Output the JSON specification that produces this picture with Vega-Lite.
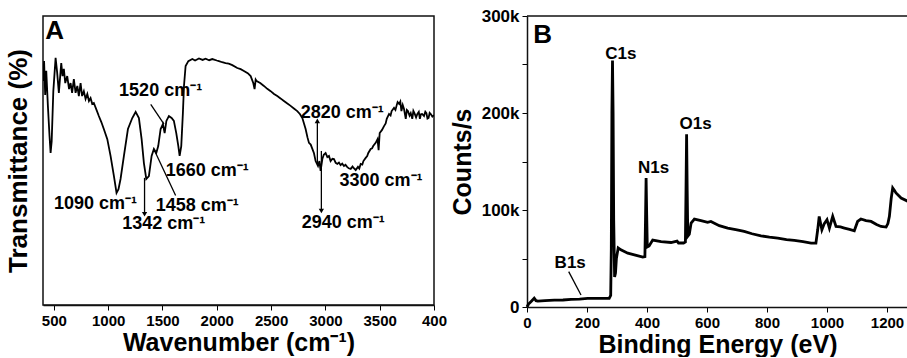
{
  "$schema": "https://vega.github.io/schema/vega-lite/v6.json",
  "padding": {"left": 4, "top": 7, "right": 0, "bottom": 0},
  "bounds": "flush",
  "spacing": 93,
  "config": {
    "font": "Liberation Sans",
    "view": {"stroke": "#111", "strokeWidth": 1.5},
    "axis": {
      "grid": false,
      "labelFont": "Liberation Sans",
      "labelFontWeight": "bold",
      "labelFontSize": 15,
      "labelColor": "#000",
      "titleFont": "Liberation Sans",
      "titleFontWeight": "bold",
      "titleFontSize": 25,
      "titleColor": "#000",
      "tickColor": "#000",
      "tickSize": 5,
      "tickWidth": 1,
      "domainColor": "#111",
      "domainWidth": 1.5,
      "labelPadding": 3,
      "titlePadding": 2
    },
    "text": {"font": "Liberation Sans", "fontWeight": "bold", "fontSize": 17, "color": "#000"}
  },
  "hconcat": [
    {
      "width": 391,
      "height": 289,
      "layer": [
        {
          "data": {"values": [
            {"wn": 400, "T": 77.5}, {"wn": 410, "T": 84.4}, {"wn": 420, "T": 72.7}, {"wn": 430, "T": 81.0}, {"wn": 445, "T": 68.9},
            {"wn": 460, "T": 58.5}, {"wn": 470, "T": 52.6}, {"wn": 480, "T": 56.7}, {"wn": 495, "T": 74.0}, {"wn": 516, "T": 85.5},
            {"wn": 530, "T": 80.6}, {"wn": 546, "T": 73.4}, {"wn": 568, "T": 83.7}, {"wn": 580, "T": 79.2}, {"wn": 592, "T": 81.7},
            {"wn": 605, "T": 76.8}, {"wn": 623, "T": 79.2}, {"wn": 640, "T": 74.7}, {"wn": 654, "T": 76.8}, {"wn": 668, "T": 73.4},
            {"wn": 684, "T": 78.2}, {"wn": 700, "T": 73.4}, {"wn": 716, "T": 75.8}, {"wn": 730, "T": 72.3}, {"wn": 746, "T": 76.8},
            {"wn": 760, "T": 72.3}, {"wn": 776, "T": 74.0}, {"wn": 792, "T": 71.3}, {"wn": 808, "T": 73.0}, {"wn": 823, "T": 70.6},
            {"wn": 838, "T": 71.6}, {"wn": 853, "T": 69.6}, {"wn": 868, "T": 69.9}, {"wn": 890, "T": 67.8}, {"wn": 914, "T": 65.4},
            {"wn": 937, "T": 63.3}, {"wn": 960, "T": 60.9}, {"wn": 992, "T": 57.4}, {"wn": 1022, "T": 51.6}, {"wn": 1053, "T": 44.6},
            {"wn": 1077, "T": 38.8}, {"wn": 1095, "T": 40.1}, {"wn": 1114, "T": 43.6}, {"wn": 1145, "T": 51.6}, {"wn": 1182, "T": 60.9},
            {"wn": 1222, "T": 64.7}, {"wn": 1253, "T": 66.8}, {"wn": 1283, "T": 64.7}, {"wn": 1308, "T": 57.4}, {"wn": 1329, "T": 49.1},
            {"wn": 1351, "T": 43.6}, {"wn": 1375, "T": 44.6}, {"wn": 1400, "T": 51.6}, {"wn": 1421, "T": 54.0}, {"wn": 1443, "T": 52.6},
            {"wn": 1461, "T": 55.0}, {"wn": 1483, "T": 60.9}, {"wn": 1504, "T": 62.6}, {"wn": 1520, "T": 59.5}, {"wn": 1536, "T": 63.7},
            {"wn": 1559, "T": 65.4}, {"wn": 1584, "T": 64.7}, {"wn": 1605, "T": 63.7}, {"wn": 1627, "T": 59.5}, {"wn": 1646, "T": 55.0},
            {"wn": 1658, "T": 51.6}, {"wn": 1673, "T": 55.0}, {"wn": 1688, "T": 66.4}, {"wn": 1698, "T": 75.8}, {"wn": 1713, "T": 82.7},
            {"wn": 1738, "T": 84.4}, {"wn": 1775, "T": 85.1}, {"wn": 1800, "T": 84.6}, {"wn": 1836, "T": 85.3}, {"wn": 1870, "T": 84.8},
            {"wn": 1897, "T": 85.2}, {"wn": 1930, "T": 84.7}, {"wn": 1959, "T": 85.1}, {"wn": 2000, "T": 84.6}, {"wn": 2020, "T": 84.4},
            {"wn": 2050, "T": 84.0}, {"wn": 2081, "T": 83.7}, {"wn": 2110, "T": 83.5}, {"wn": 2143, "T": 83.0}, {"wn": 2189, "T": 82.0},
            {"wn": 2220, "T": 81.6}, {"wn": 2250, "T": 81.0}, {"wn": 2285, "T": 80.2}, {"wn": 2312, "T": 79.2}, {"wn": 2336, "T": 76.8},
            {"wn": 2348, "T": 74.7}, {"wn": 2358, "T": 78.0}, {"wn": 2367, "T": 77.5}, {"wn": 2400, "T": 76.8}, {"wn": 2434, "T": 75.8},
            {"wn": 2465, "T": 74.8}, {"wn": 2496, "T": 74.0}, {"wn": 2527, "T": 73.0}, {"wn": 2557, "T": 72.3}, {"wn": 2590, "T": 71.4},
            {"wn": 2618, "T": 70.6}, {"wn": 2650, "T": 69.7}, {"wn": 2680, "T": 68.9}, {"wn": 2710, "T": 68.0}, {"wn": 2741, "T": 67.1},
            {"wn": 2765, "T": 66.1}, {"wn": 2788, "T": 64.7}, {"wn": 2818, "T": 60.9}, {"wn": 2835, "T": 58.0}, {"wn": 2849, "T": 56.1},
            {"wn": 2865, "T": 55.5}, {"wn": 2880, "T": 54.0}, {"wn": 2895, "T": 52.5}, {"wn": 2910, "T": 49.8}, {"wn": 2932, "T": 48.1},
            {"wn": 2945, "T": 49.8}, {"wn": 2956, "T": 46.4}, {"wn": 2972, "T": 50.5}, {"wn": 2985, "T": 52.0}, {"wn": 3002, "T": 52.6},
            {"wn": 3018, "T": 51.2}, {"wn": 3033, "T": 51.6}, {"wn": 3048, "T": 49.8}, {"wn": 3065, "T": 50.6}, {"wn": 3079, "T": 50.5},
            {"wn": 3095, "T": 49.2}, {"wn": 3110, "T": 48.8}, {"wn": 3125, "T": 49.3}, {"wn": 3140, "T": 48.4}, {"wn": 3155, "T": 48.9},
            {"wn": 3171, "T": 48.1}, {"wn": 3185, "T": 48.5}, {"wn": 3200, "T": 47.8}, {"wn": 3215, "T": 47.3}, {"wn": 3233, "T": 47.1},
            {"wn": 3250, "T": 47.9}, {"wn": 3260, "T": 47.4}, {"wn": 3279, "T": 46.7}, {"wn": 3300, "T": 47.8}, {"wn": 3312, "T": 47.2},
            {"wn": 3325, "T": 48.8}, {"wn": 3340, "T": 48.6}, {"wn": 3350, "T": 49.8}, {"wn": 3371, "T": 50.9}, {"wn": 3385, "T": 51.5},
            {"wn": 3395, "T": 52.6}, {"wn": 3417, "T": 54.0}, {"wn": 3430, "T": 54.2}, {"wn": 3440, "T": 55.0}, {"wn": 3463, "T": 56.1},
            {"wn": 3480, "T": 57.4}, {"wn": 3490, "T": 53.6}, {"wn": 3500, "T": 59.5}, {"wn": 3520, "T": 60.5}, {"wn": 3540, "T": 61.9},
            {"wn": 3555, "T": 62.8}, {"wn": 3565, "T": 64.4}, {"wn": 3586, "T": 66.1}, {"wn": 3600, "T": 65.6}, {"wn": 3610, "T": 67.1},
            {"wn": 3632, "T": 68.2}, {"wn": 3645, "T": 67.5}, {"wn": 3655, "T": 68.9}, {"wn": 3665, "T": 70.2}, {"wn": 3679, "T": 69.6},
            {"wn": 3690, "T": 70.4}, {"wn": 3700, "T": 67.1}, {"wn": 3712, "T": 69.2}, {"wn": 3724, "T": 67.8}, {"wn": 3740, "T": 64.4},
            {"wn": 3750, "T": 67.5}, {"wn": 3760, "T": 67.1}, {"wn": 3775, "T": 65.5}, {"wn": 3786, "T": 66.4}, {"wn": 3800, "T": 64.4},
            {"wn": 3810, "T": 67.2}, {"wn": 3820, "T": 66.4}, {"wn": 3835, "T": 64.9}, {"wn": 3847, "T": 66.1}, {"wn": 3860, "T": 66.8},
            {"wn": 3870, "T": 64.4}, {"wn": 3880, "T": 66.0}, {"wn": 3890, "T": 66.1}, {"wn": 3908, "T": 65.4}, {"wn": 3920, "T": 66.9},
            {"wn": 3930, "T": 66.4}, {"wn": 3940, "T": 64.5}, {"wn": 3950, "T": 64.7}, {"wn": 3960, "T": 66.5}, {"wn": 3970, "T": 66.1},
            {"wn": 3985, "T": 65.2}, {"wn": 4000, "T": 65.7}
          ]},
          "mark": {"type": "line", "color": "#000", "strokeWidth": 1.8, "clip": true},
          "encoding": {
            "x": {
              "field": "wn", "type": "quantitative",
              "scale": {"domain": [400, 4000], "nice": false, "zero": false},
              "axis": {
                "title": "Wavenumber (cm⁻¹)",
                "values": [500, 750, 1000, 1250, 1500, 1750, 2000, 2250, 2500, 2750, 3000, 3250, 3500, 3750, 4000],
                "format": "d",
                "labelExpr": "datum.value == 4000 ? '400' : (datum.value % 500 == 0 ? datum.label : '')",
                "labelFlush": false,
                "labelOverlap": false
              }
            },
            "y": {
              "field": "T", "type": "quantitative",
              "scale": {"domain": [0, 100], "nice": false},
              "axis": {"title": "Transmittance (%)", "titleFontSize": 26, "labels": false, "ticks": false, "domain": false, "titlePadding": 12}
            }
          }
        },
        {
          "data": {"values": [
            {"x1": 1392, "y1": 69.4, "x2": 1514, "y2": 62.6},
            {"x1": 1421, "y1": 53.9, "x2": 1621, "y2": 37.9},
            {"x1": 1335, "y1": 44.0, "x2": 1335, "y2": 31.4},
            {"x1": 2926, "y1": 48.8, "x2": 2926, "y2": 63.7},
            {"x1": 2963, "y1": 53.3, "x2": 2963, "y2": 32.5}
          ]},
          "mark": {"type": "rule", "color": "#000", "strokeWidth": 1.3},
          "encoding": {
            "x": {"field": "x1", "type": "quantitative"},
            "y": {"field": "y1", "type": "quantitative"},
            "x2": {"field": "x2"},
            "y2": {"field": "y2"}
          }
        },
        {
          "data": {"values": [
            {"x": 1335, "y": 31.4, "dir": "down"},
            {"x": 2926, "y": 63.7, "dir": "up"},
            {"x": 2963, "y": 32.5, "dir": "down"}
          ]},
          "mark": {"type": "point", "filled": true, "color": "#000", "size": 28, "opacity": 1},
          "encoding": {
            "x": {"field": "x", "type": "quantitative"},
            "y": {"field": "y", "type": "quantitative"},
            "shape": {"field": "dir", "type": "nominal", "scale": {"domain": ["down", "up"], "range": ["triangle-down", "triangle-up"]}, "legend": null}
          }
        },
        {
          "data": {"values": [
            {"x": 1483, "y": 74.0, "label": "1520 cm⁻¹"},
            {"x": 1913, "y": 46.4, "label": "1660 cm⁻¹"},
            {"x": 884, "y": 34.8, "label": "1090 cm⁻¹"},
            {"x": 1820, "y": 34.3, "label": "1458 cm⁻¹"},
            {"x": 1512, "y": 27.9, "label": "1342 cm⁻¹"},
            {"x": 3156, "y": 66.5, "label": "2820 cm⁻¹"},
            {"x": 3164, "y": 28.5, "label": "2940 cm⁻¹"},
            {"x": 3512, "y": 42.9, "label": "3300 cm⁻¹"}
          ]},
          "mark": {"type": "text", "baseline": "middle", "align": "center", "fontSize": 18},
          "encoding": {
            "x": {"field": "x", "type": "quantitative"},
            "y": {"field": "y", "type": "quantitative"},
            "text": {"field": "label"}
          }
        },
        {
          "data": {"values": [{"x": 507, "y": 94.8, "label": "A"}]},
          "mark": {"type": "text", "baseline": "middle", "align": "center", "fontSize": 26},
          "encoding": {
            "x": {"field": "x", "type": "quantitative"},
            "y": {"field": "y", "type": "quantitative"},
            "text": {"field": "label"}
          }
        }
      ]
    },
    {
      "width": 381,
      "height": 291,
      "view": {"stroke": null},
      "layer": [
        {
          "data": {"values": [
            {"be": 0, "c": 0}, {"be": 5, "c": 3000}, {"be": 13, "c": 5500}, {"be": 24, "c": 9000}, {"be": 30, "c": 6500},
            {"be": 36, "c": 6000}, {"be": 60, "c": 6500}, {"be": 91, "c": 7000}, {"be": 120, "c": 7200}, {"be": 147, "c": 7800},
            {"be": 175, "c": 8200}, {"be": 202, "c": 8800}, {"be": 240, "c": 8800}, {"be": 274, "c": 9000}, {"be": 279, "c": 12000},
            {"be": 281, "c": 60000}, {"be": 283, "c": 200000}, {"be": 285, "c": 254000}, {"be": 287, "c": 200000}, {"be": 289, "c": 90000},
            {"be": 292, "c": 31000}, {"be": 295, "c": 35000}, {"be": 298, "c": 50000}, {"be": 304, "c": 61000}, {"be": 313, "c": 59000},
            {"be": 336, "c": 55500}, {"be": 358, "c": 53800}, {"be": 386, "c": 51400}, {"be": 393, "c": 52000}, {"be": 395, "c": 90000},
            {"be": 397, "c": 133000}, {"be": 399, "c": 95000}, {"be": 401, "c": 62000}, {"be": 407, "c": 63000}, {"be": 419, "c": 69000},
            {"be": 447, "c": 67500}, {"be": 480, "c": 66500}, {"be": 500, "c": 68000}, {"be": 505, "c": 66000}, {"be": 522, "c": 66000},
            {"be": 528, "c": 67000}, {"be": 530, "c": 120000}, {"be": 532, "c": 178000}, {"be": 534, "c": 120000}, {"be": 536, "c": 73000},
            {"be": 541, "c": 75000}, {"be": 547, "c": 86500}, {"be": 558, "c": 90700}, {"be": 580, "c": 89000}, {"be": 602, "c": 87200},
            {"be": 613, "c": 88200}, {"be": 641, "c": 83800}, {"be": 669, "c": 81400}, {"be": 700, "c": 79500}, {"be": 724, "c": 77900},
            {"be": 750, "c": 75500}, {"be": 780, "c": 73400}, {"be": 808, "c": 72000}, {"be": 836, "c": 71000}, {"be": 865, "c": 69500},
            {"be": 891, "c": 68600}, {"be": 920, "c": 67500}, {"be": 947, "c": 65900}, {"be": 963, "c": 65900}, {"be": 969, "c": 79600},
            {"be": 974, "c": 93400}, {"be": 983, "c": 79600}, {"be": 991, "c": 86000}, {"be": 1000, "c": 90000}, {"be": 1008, "c": 81400},
            {"be": 1019, "c": 93400}, {"be": 1030, "c": 83000}, {"be": 1045, "c": 82500}, {"be": 1058, "c": 81400}, {"be": 1075, "c": 80000},
            {"be": 1091, "c": 78600}, {"be": 1102, "c": 88200}, {"be": 1113, "c": 90700}, {"be": 1130, "c": 89000}, {"be": 1147, "c": 88200},
            {"be": 1165, "c": 85000}, {"be": 1180, "c": 83000}, {"be": 1197, "c": 82400}, {"be": 1203, "c": 86000}, {"be": 1208, "c": 93400},
            {"be": 1214, "c": 112000}, {"be": 1219, "c": 122700}, {"be": 1225, "c": 120000}, {"be": 1230, "c": 117600}, {"be": 1247, "c": 112400},
            {"be": 1270, "c": 108900}
          ]},
          "mark": {"type": "line", "color": "#000", "strokeWidth": 2.8},
          "encoding": {
            "x": {
              "field": "be", "type": "quantitative",
              "scale": {"domain": [0, 1270], "nice": false},
              "axis": {
                "title": "Binding Energy (eV)",
                "values": [0, 100, 200, 300, 400, 500, 600, 700, 800, 900, 1000, 1100, 1200],
                "format": "d",
                "labelExpr": "datum.value % 200 == 0 ? datum.label : ''",
                "labelFlush": false,
                "labelOverlap": false
              }
            },
            "y": {
              "field": "c", "type": "quantitative",
              "scale": {"domain": [0, 300000], "nice": false},
              "axis": {
                "title": "Counts/s",
                "values": [0, 50000, 100000, 150000, 200000, 250000, 300000],
                "labelExpr": "datum.value == 0 ? '0' : (datum.value % 100000 == 0 ? (datum.value / 1000) + 'k' : '')",
                "labelFontSize": 17,
                "labelFlush": false,
                "labelOverlap": false,
                "titlePadding": 6
              }
            }
          }
        },
        {
          "data": {"values": [{"top": 300000}]},
          "mark": {"type": "rule", "color": "#111", "strokeWidth": 1.5},
          "encoding": {"y": {"field": "top", "type": "quantitative"}}
        },
        {
          "data": {"values": [{"x1": 139, "y1": 36500, "x2": 180, "y2": 12400}]},
          "mark": {"type": "rule", "color": "#000", "strokeWidth": 1.3},
          "encoding": {
            "x": {"field": "x1", "type": "quantitative"},
            "y": {"field": "y1", "type": "quantitative"},
            "x2": {"field": "x2"},
            "y2": {"field": "y2"}
          }
        },
        {
          "data": {"values": [
            {"x": 313, "y": 260600, "label": "C1s"},
            {"x": 422, "y": 143400, "label": "N1s"},
            {"x": 562, "y": 189000, "label": "O1s"},
            {"x": 144, "y": 45800, "label": "B1s"}
          ]},
          "mark": {"type": "text", "baseline": "middle", "align": "center"},
          "encoding": {
            "x": {"field": "x", "type": "quantitative"},
            "y": {"field": "y", "type": "quantitative"},
            "text": {"field": "label"}
          }
        },
        {
          "data": {"values": [{"x": 52, "y": 280000, "label": "B"}]},
          "mark": {"type": "text", "baseline": "middle", "align": "center", "fontSize": 26},
          "encoding": {
            "x": {"field": "x", "type": "quantitative"},
            "y": {"field": "y", "type": "quantitative"},
            "text": {"field": "label"}
          }
        }
      ]
    }
  ]
}
